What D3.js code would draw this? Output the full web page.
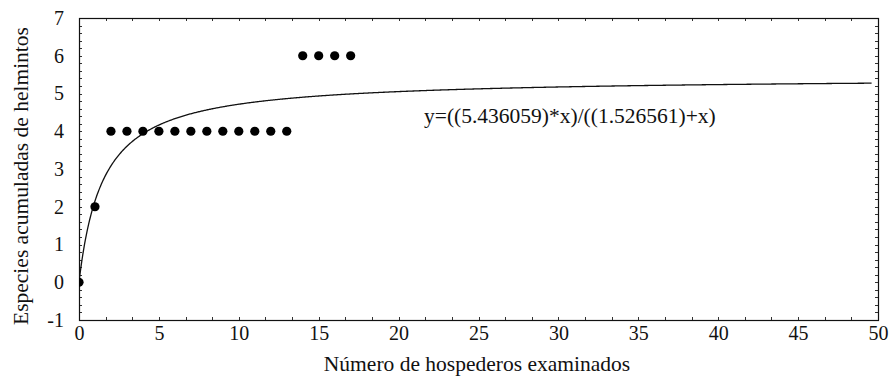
<!DOCTYPE html>
<html>
<head>
<meta charset="utf-8">
<script src="https://cdn.jsdelivr.net/npm/d3@7"></script>
<style>
  html, body { margin: 0; padding: 0; background: #fff; }
  svg { display: block; }
  text { font-family: "Liberation Serif", "Times New Roman", serif; fill: #111; }
</style>
</head>
<body>
<svg id="chart" width="889" height="382"></svg>
<script>
// Accumulated helminth species vs. number of hosts examined
const hosts   = [0, 1, 2, 3, 4, 5, 6, 7, 8, 9, 10, 11, 12, 13, 14, 15, 16, 17];
const species = [0, 2, 4, 4, 4, 4, 4, 4, 4, 4, 4, 4, 4, 4, 6, 6, 6, 6];

// Fitted saturation curve y = a*x/(b+x)
const fitA = 5.436059;
const fitB = 1.526561;
const fitEnd = 49.6;

const xTicks = [0, 5, 10, 15, 20, 25, 30, 35, 40, 45, 50];
const yTicks = [-1, 0, 1, 2, 3, 4, 5, 6, 7];

const svg = d3.select("#chart");
const m = { left: 79, right: 878, top: 18, bottom: 320 };

const x = d3.scaleLinear().domain([0, 50]).range([m.left, m.right]);
const y = d3.scaleLinear().domain([-1, 7]).range([m.bottom, m.top]);

svg.append("defs").append("clipPath").attr("id", "plotClip")
  .append("rect")
  .attr("x", m.left).attr("y", m.top)
  .attr("width", m.right - m.left).attr("height", m.bottom - m.top);

// Minor ticks pointing inward on all four sides
const xMinor = d3.range(0, 50.001, 5 / 3);
const yMinor = d3.range(-1, 7.001, 0.2);
const tickLen = 3;
const ticks = svg.append("g").attr("stroke", "#333").attr("stroke-width", 1);
xMinor.forEach(v => {
  const px = Math.round(x(v)) + 0.5;
  ticks.append("line").attr("x1", px).attr("x2", px).attr("y1", m.bottom).attr("y2", m.bottom - tickLen);
  ticks.append("line").attr("x1", px).attr("x2", px).attr("y1", m.top).attr("y2", m.top + tickLen);
});
yMinor.forEach(v => {
  const py = Math.round(y(v)) + 0.5;
  ticks.append("line").attr("x1", m.left).attr("x2", m.left + tickLen).attr("y1", py).attr("y2", py);
  ticks.append("line").attr("x1", m.right).attr("x2", m.right - tickLen).attr("y1", py).attr("y2", py);
});

// Frame
svg.append("rect")
  .attr("x", m.left + 0.5).attr("y", m.top + 0.5)
  .attr("width", m.right - m.left).attr("height", m.bottom - m.top)
  .attr("fill", "none").attr("stroke", "#111").attr("stroke-width", 1.2);

// Axis tick labels via d3 axes (ticks hidden, labels only)
const xAxis = svg.append("g")
  .attr("transform", `translate(0,${m.bottom})`)
  .call(d3.axisBottom(x).tickValues(xTicks).tickSize(0).tickPadding(6).tickFormat(d3.format("d")));
xAxis.select(".domain").remove();
xAxis.selectAll("text").attr("font-size", 20).attr("font-family", "Liberation Serif").attr("fill", "#111");

const yAxis = svg.append("g")
  .attr("transform", `translate(${m.left},0)`)
  .call(d3.axisLeft(y).tickValues(yTicks).tickSize(0).tickPadding(15).tickFormat(d => d < 0 ? "-" + Math.abs(d) : d));
yAxis.select(".domain").remove();
yAxis.selectAll("text").attr("font-size", 20).attr("font-family", "Liberation Serif").attr("fill", "#111");

// Fitted curve
const curvePts = d3.range(0, fitEnd + 0.001, 0.05).map(v => [v, fitA * v / (fitB + v)]);
svg.append("path")
  .datum(curvePts)
  .attr("clip-path", "url(#plotClip)")
  .attr("fill", "none").attr("stroke", "#111").attr("stroke-width", 1.3)
  .attr("d", d3.line().x(d => x(d[0])).y(d => y(d[1])));

// Observed points
svg.append("g").attr("clip-path", "url(#plotClip)")
  .selectAll("circle").data(hosts.map((h, i) => [h, species[i]]))
  .join("circle")
  .attr("cx", d => x(d[0])).attr("cy", d => y(d[1]))
  .attr("r", 4.6).attr("fill", "#000");

// Equation label
svg.append("text")
  .attr("x", 424).attr("y", 123)
  .attr("font-size", 21.5)
  .text(`y=((${fitA.toFixed(6)})*x)/((${fitB.toFixed(6)})+x)`);

// Axis titles
svg.append("text")
  .attr("x", 477).attr("y", 371)
  .attr("text-anchor", "middle").attr("font-size", 21.5)
  .text("Número de hospederos examinados");

svg.append("text")
  .attr("transform", `translate(28,176) rotate(-90)`)
  .attr("text-anchor", "middle").attr("font-size", 21.5)
  .text("Especies acumuladas de helmintos");
</script>
</body>
</html>
